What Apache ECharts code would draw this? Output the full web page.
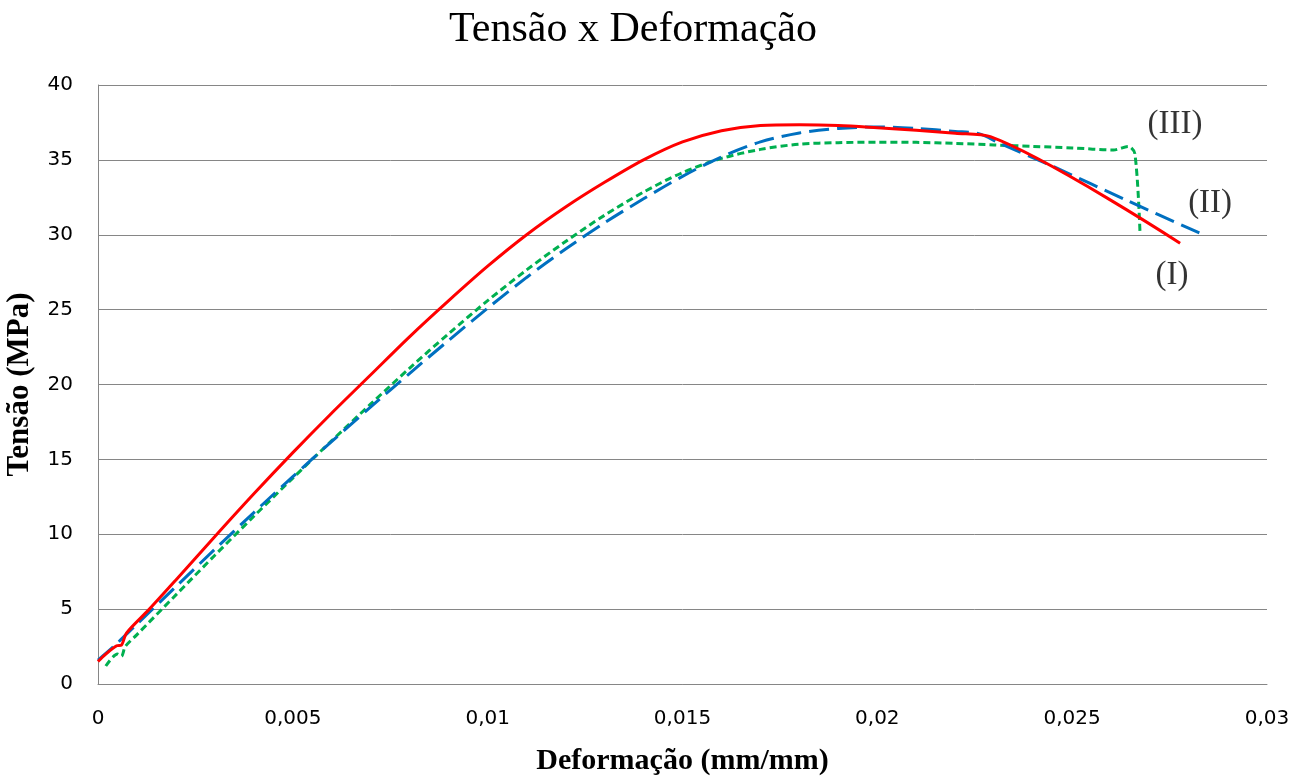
<!DOCTYPE html>
<html>
<head>
<meta charset="utf-8">
<script src="https://cdn.jsdelivr.net/npm/echarts@6/dist/echarts.min.js"></script>
<style>html,body{margin:0;padding:0;background:#fff}#c{width:1303px;height:781px}</style>
</head>
<body>
<div id="c"></div>
<script>
// Curve (I) – red solid
const curveI = [
  [0, 1.5], [0.0002, 2.0], [0.00048, 2.55], [0.0006, 2.6], [0.00073, 3.4],
  [0.0013, 4.95], [0.002, 6.95], [0.003, 9.85], [0.004, 12.7], [0.005, 15.45],
  [0.006, 18.1], [0.007, 20.65], [0.008, 23.2], [0.009, 25.6], [0.010, 27.9],
  [0.011, 30.0], [0.012, 31.85], [0.013, 33.5], [0.014, 35.0], [0.015, 36.2],
  [0.016, 36.95], [0.017, 37.3], [0.018, 37.35], [0.019, 37.3], [0.020, 37.15],
  [0.021, 36.98], [0.022, 36.78], [0.0229, 36.55], [0.02777, 29.43]
];
// Curve (II) – blue long dash
const curveII = [
  [0, 1.6], [0.0004, 2.5], [0.001, 4.0], [0.002, 6.5], [0.003, 9.0],
  [0.004, 11.45], [0.005, 13.85], [0.006, 16.2], [0.007, 18.5], [0.008, 20.75],
  [0.009, 22.95], [0.010, 25.1], [0.011, 27.15], [0.012, 29.05], [0.013, 30.8],
  [0.014, 32.4], [0.015, 33.9], [0.016, 35.2], [0.017, 36.2], [0.018, 36.8],
  [0.019, 37.1], [0.020, 37.2], [0.021, 37.1], [0.022, 36.9], [0.0226, 36.75],
  [0.02315, 36.1], [0.02452, 34.55], [0.0264, 32.3], [0.02828, 30.1]
];
// Curve (III) – green short dash
const curveIII = [
  [0.0002, 1.2], [0.0005, 2.0], [0.0006, 1.85], [0.0007, 2.5], [0.001, 3.3],
  [0.002, 5.95], [0.003, 8.6], [0.004, 11.2], [0.005, 13.75], [0.006, 16.25],
  [0.007, 18.7], [0.008, 21.1], [0.009, 23.4], [0.010, 25.6], [0.011, 27.65],
  [0.012, 29.55], [0.013, 31.3], [0.014, 32.85], [0.015, 34.15], [0.016, 35.1],
  [0.017, 35.7], [0.018, 36.05], [0.019, 36.15], [0.020, 36.18], [0.021, 36.17],
  [0.022, 36.1], [0.023, 36.0], [0.024, 35.9], [0.025, 35.8], [0.02606, 35.66],
  [0.02644, 35.9], [0.02661, 35.4], [0.02674, 30.2]
];
const curveNames = ['(I)', '(II)', '(III)'];
// annotation anchors (data coordinates)
const labelAnchors = [[0.02756, 27.3], [0.02854, 32.1], [0.02764, 37.35]];
const xTicks = [0, 0.005, 0.01, 0.015, 0.02, 0.025, 0.03];
const yTicks = [0, 5, 10, 15, 20, 25, 30, 35, 40];

const chart = echarts.init(document.getElementById('c'), null, {renderer: 'canvas'});
const colors = ['#FF0000', '#0070C0', '#00B050'];
const styles = [
  {type: 'solid', width: 3},
  {type: [20, 8], width: 3},
  {type: [7, 4], width: 3}
];
const datasets = [curveI, curveII, curveIII];

const series = datasets.map((d, i) => ({
  type: 'line',
  name: curveNames[i],
  data: d,
  showSymbol: false,
  symbol: 'none',
  smooth: 0.3,
  lineStyle: Object.assign({color: colors[i]}, styles[i]),
  z: 3 - i
}));

series.push({
  type: 'scatter',
  name: 'labels',
  data: labelAnchors.map((p, i) => ({value: p, name: curveNames[i]})),
  symbol: 'circle',
  symbolSize: 2,
  itemStyle: {color: 'rgba(0,0,0,0)'},
  silent: true,
  z: 5,
  label: {
    show: true, position: 'inside', formatter: p => p.name,
    fontFamily: 'Liberation Serif', fontSize: 33, color: '#000000',
    textBorderWidth: 0
  }
});

chart.setOption({
  animation: false,
  backgroundColor: '#ffffff',
  title: {
    text: 'Tensão x Deformação',
    left: 628, textAlign: 'center', top: 4,
    textStyle: {fontFamily: 'Liberation Serif', fontSize: 42, fontWeight: 'normal', color: '#000'}
  },
  grid: {left: 98, right: 36, top: 85, bottom: 97, containLabel: false, outerBoundsMode: 'none'},
  xAxis: {
    type: 'value', min: 0, max: 0.03, interval: 0.005,
    name: 'Deformação (mm/mm)', nameLocation: 'middle', nameGap: 62,
    nameTextStyle: {fontFamily: 'Liberation Serif', fontSize: 30, fontWeight: 'bold', color: '#000'},
    axisLine: {show: true, lineStyle: {color: '#868686', width: 1}},
    axisTick: {show: false},
    splitLine: {show: false},
    axisLabel: {
      margin: 25, fontFamily: 'DejaVu Sans', fontSize: 20, color: '#000',
      formatter: v => {
        const t = xTicks.find(x => Math.abs(x - v) < 1e-9);
        return t === undefined ? '' : String(t).replace('.', ',');
      }
    }
  },
  yAxis: {
    type: 'value', min: 0, max: 40, interval: 5,
    name: 'Tensão (MPa)', nameLocation: 'middle', nameGap: 63,
    nameTextStyle: {fontFamily: 'Liberation Serif', fontSize: 31, fontWeight: 'bold', color: '#000'},
    axisLine: {show: true, lineStyle: {color: '#868686', width: 1}},
    axisTick: {show: false},
    splitLine: {show: true, lineStyle: {color: '#868686', width: 1}},
    axisLabel: {
      margin: 25, fontFamily: 'DejaVu Sans', fontSize: 20, color: '#000',
      formatter: v => yTicks.includes(v) ? String(v) : ''
    }
  },
  series: series
});
</script>
</body>
</html>
